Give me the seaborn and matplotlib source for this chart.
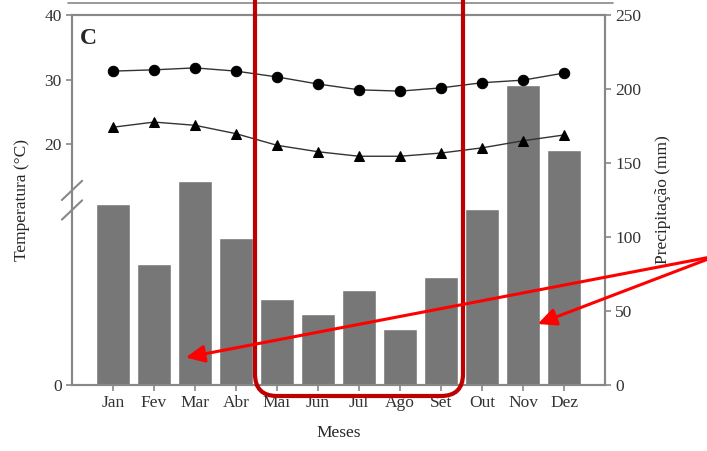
import numpy as np
import matplotlib
matplotlib.use("Agg")
import matplotlib.pyplot as plt
import seaborn as sns
from matplotlib.patches import FancyBboxPatch, FancyArrowPatch
from matplotlib.lines import Line2D
from matplotlib.transforms import IdentityTransform

meses = ["Jan", "Fev", "Mar", "Abr", "Mai", "Jun", "Jul", "Ago", "Set", "Out", "Nov", "Dez"]
precipitacao = [122, 82, 138, 99, 58, 48, 64, 38, 73, 119, 203, 159]
temp_max = [31.3, 31.5, 31.8, 31.3, 30.4, 29.3, 28.4, 28.2, 28.7, 29.5, 29.9, 31.0]
temp_min = [22.6, 23.4, 22.9, 21.6, 19.8, 18.8, 18.1, 18.1, 18.6, 19.4, 20.5, 21.4]

sns.set_style("ticks")
plt.rcParams["font.family"] = ["Liberation Serif", "DejaVu Serif"]
plt.rcParams["font.size"] = 12.5

AX_GRAY = "#888888"
BAR_GRAY = "#777777"

fig = plt.figure(figsize=(7.07, 4.51), dpi=100)
ax_t = fig.add_axes([72 / 707, 66 / 451, 533 / 707, 370 / 451])
ax_p = ax_t.twinx()

# bars: precipitation on the right axis
x = np.arange(len(meses))
sns.barplot(x=x, y=precipitacao, ax=ax_p, color=BAR_GRAY, width=0.83,
            saturation=1, native_scale=True)
ax_p.set_ylim(0, 250)
ax_p.set_yticks(np.arange(0, 251, 50))
ax_p.set_ylabel("Precipitação (mm)", labelpad=10)

# temperature on top of the bars
ax_t.set_zorder(ax_p.get_zorder() + 1)
ax_t.patch.set_visible(False)

# broken temperature axis: keep scale above 12, stretch below
c, k = 12.0, 2.447
def fwd(t):
    t = np.asarray(t, dtype=float)
    return np.where(t >= c, t, c + (t - c) * k)
def inv(y):
    y = np.asarray(y, dtype=float)
    return np.where(y >= c, y, c + (y - c) / k)
ax_t.set_yscale("function", functions=(fwd, inv))

sns.lineplot(x=x, y=temp_max, ax=ax_t, color="#333333", lw=1.0,
             marker="o", markersize=7.5, markeredgecolor="black", markerfacecolor="black")
sns.lineplot(x=x, y=temp_min, ax=ax_t, color="#333333", lw=1.0,
             marker="^", markersize=7.5, markeredgecolor="black", markerfacecolor="black")
ax_t.set_ylim(0, 40)
ax_t.set_yticks([0, 20, 30, 40])
ax_t.set_yticklabels(["0", "20", "30", "40"])
ax_t.yaxis.set_minor_locator(matplotlib.ticker.NullLocator())
ax_t.set_ylabel("Temperatura (°C)", labelpad=10)
ax_t.set_xlim(-1, 12)
ax_t.set_xticks(x)
ax_t.set_xticklabels(meses)
ax_t.set_xlabel("Meses", labelpad=10)

for a in (ax_t, ax_p):
    for s in a.spines.values():
        s.set_color(AX_GRAY)
        s.set_linewidth(1.5)
        s.set_visible(True)
    a.tick_params(colors=AX_GRAY, labelcolor="#333333", length=4, width=1.2)

# axis break marks
for y0 in (0.447, 0.500):
    ax_t.plot([-0.019, 0.019], [y0, y0 + 0.052], transform=ax_t.transAxes,
              color=AX_GRAY, lw=1.5, clip_on=False)

ax_t.text(0.015, 0.965, "C", transform=ax_t.transAxes, fontsize=17,
          fontweight="bold", va="top", ha="left")

# strip of the panel above
fig.add_artist(Line2D([68 / 707, 613 / 707], [448 / 451, 448 / 451],
                      transform=fig.transFigure, color=AX_GRAY, lw=1.2))

# highlight box around the dry months
box = FancyBboxPatch((255, 55), 208, 420, boxstyle="round,pad=0,rounding_size=22",
                     transform=IdentityTransform(), fill=False,
                     edgecolor="#c00000", lw=3.0, zorder=10)
fig.patches.append(box)

# arrows from the right edge
for tip in [(183, 93), (535, 126)]:
    arr = FancyArrowPatch((716, 195), tip, transform=IdentityTransform(),
                          arrowstyle="-|>,head_length=0.75,head_width=0.35",
                          mutation_scale=15, color="#ff0000", lw=2.2, zorder=11)
    fig.patches.append(arr)

fig.savefig("out.png", dpi=100)
